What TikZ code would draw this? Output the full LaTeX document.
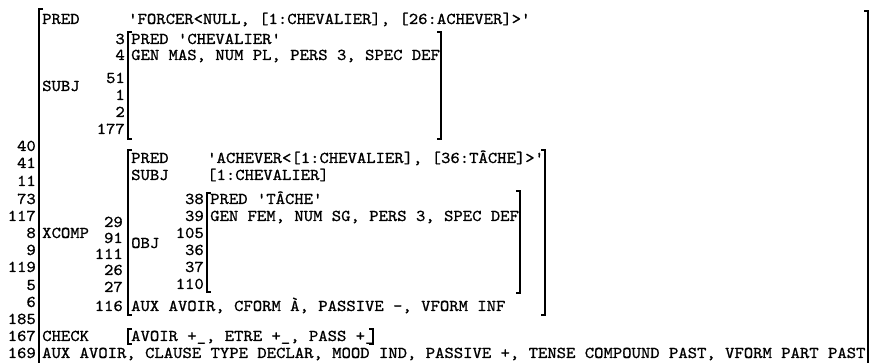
\documentclass[tikz,border=0pt]{standalone}
\usepackage{fontspec}
\newfontfamily\courfont[FakeBold=0.9,FakeStretch=1.08]{lmmono10-regular.otf}
\newcommand\avmfont{\fontsize{16.5}{17}\selectfont\courfont}
\begin{document}
\begin{tikzpicture}[x=1pt,y=-1pt,
  txt/.style={anchor=west, inner sep=0pt, text height=10pt, text depth=0pt, font=\avmfont},
  num/.style={anchor=east, inner sep=0pt, text height=10pt, text depth=0pt, font=\avmfont},
  brk/.style={line width=1.3pt, line cap=butt, line join=miter}]
\fill[white] (0,0) rectangle (873,363);
\useasboundingbox (0,0) rectangle (873,363);
\clip (0,0) rectangle (873,363);
% outer brackets
\draw[brk] (43,9) -- (39,9) -- (39,370);
\draw[brk] (864,11) -- (868,11) -- (868,370);
% top-level PRED
\node[txt] (predA) at (42,19) {PRED};
\node[txt] (predAv) at (128,19) {'FORCER<NULL, [1:CHEVALIER], [26:ACHEVER]>'};
% SUBJ
\node[txt] (subjA) at (42,86) {SUBJ};
\draw[brk] (132,32) -- (128,32) -- (128,139) -- (132,139);
\draw[brk] (437,32) -- (441,32) -- (441,139) -- (437,139);
\node[num] (s3) at (125,39) {3};
\node[txt] (s3t) at (131,39) {PRED 'CHEVALIER'};
\node[num] (s4) at (125,55) {4};
\node[txt] (s4t) at (131,55) {GEN MAS, NUM PL, PERS 3, SPEC DEF};
\node[num] (s51) at (125,78) {51};
\node[num] (s1) at (125,95) {1};
\node[num] (s2) at (125,112) {2};
\node[num] (s177) at (125,129) {177};
% left index column
\node[num] (l40) at (36,146) {40};
\node[num] (l41) at (36,163) {41};
\node[num] (l11) at (36,181) {11};
\node[num] (l73) at (36,199) {73};
\node[num] (l117) at (36,216) {117};
\node[num] (l8) at (36,233) {8};
\node[num] (l9) at (36,250) {9};
\node[num] (l119) at (36,267) {119};
\node[num] (l5) at (36,285) {5};
\node[num] (l6) at (36,302) {6};
\node[num] (l185) at (36,319) {185};
\node[num] (l167) at (36,336) {167};
\node[num] (l169) at (36,353) {169};
% XCOMP
\node[txt] (xcomp) at (42,233) {XCOMP};
\draw[brk] (132,150) -- (128,150) -- (128,315) -- (132,315);
\draw[brk] (541,150) -- (545,150) -- (545,315) -- (541,315);
\node[txt] (xpred) at (131,158) {PRED};
\node[txt] (xpredv) at (207,158) {'ACHEVER<[1:CHEVALIER], [36:TÂCHE]>'};
\node[txt] (xsubj) at (131,175) {SUBJ};
\node[txt] (xsubjv) at (207,175) {[1:CHEVALIER]};
\node[num] (x29) at (123,222) {29};
\node[num] (x91) at (123,238) {91};
\node[num] (x111) at (123,254) {111};
\node[num] (x26) at (123,270) {26};
\node[num] (x27) at (123,287) {27};
\node[num] (x116) at (123,306) {116};
\node[txt] (x116t) at (131,306) {AUX AVOIR, CFORM À, PASSIVE -, VFORM INF};
% OBJ
\node[txt] (obj) at (131,243) {OBJ};
\draw[brk] (211,193) -- (207,193) -- (207,292) -- (211,292);
\draw[brk] (516,191) -- (520,191) -- (520,293) -- (516,293);
\node[num] (o38) at (204,199) {38};
\node[txt] (o38t) at (210,199) {PRED 'TÂCHE'};
\node[num] (o39) at (204,216) {39};
\node[txt] (o39t) at (210,216) {GEN FEM, NUM SG, PERS 3, SPEC DEF};
\node[num] (o105) at (204,233) {105};
\node[num] (o36) at (204,250) {36};
\node[num] (o37) at (204,267) {37};
\node[num] (o110) at (204,284) {110};
% CHECK
\node[txt] (check) at (42,336) {CHECK};
\draw[brk] (132,329) -- (128,329) -- (128,344) -- (132,344);
\node[txt] (checkv) at (131,336) {AVOIR +\_, ETRE +\_, PASS +\_};
\draw[brk] (369,329) -- (373,329) -- (373,344) -- (369,344);
% bottom row
\node[txt] (last) at (42,353) {AUX AVOIR, CLAUSE TYPE DECLAR, MOOD IND, PASSIVE +, TENSE COMPOUND PAST, VFORM PART PAST};
\end{tikzpicture}
\end{document}
